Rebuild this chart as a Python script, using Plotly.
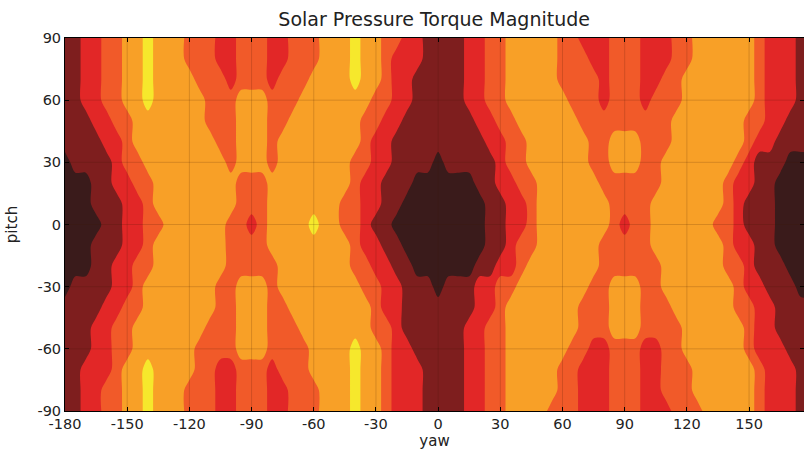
import plotly.graph_objects as go

# grid of the map (degrees)
yaw = list(range(-180, 181, 5))
pitch = list(range(90, -91, -10))

# magnitude level (0 = darkest ... 5 = yellow)
# one row per pitch value (top row = +90), one digit per yaw column (-180 ... 180, step 5),
# digits grouped per 30 degrees of yaw for readability
level_rows = [
    "112233 445444 333223 332233 344454 433221 111223 344444 332223 332223 344444 432221 1",  #  90
    "112233 445444 333223 332233 344454 432221 111223 344444 333223 332223 344444 432221 1",  #  80
    "112233 445444 433323 332333 444454 432211 111223 344444 333323 332233 444444 432221 1",  #  70
    "112233 445444 443334 443334 444444 332211 111223 344444 433323 332333 444444 432221 1",  #  60
    "111223 344444 443334 443344 444443 322111 111122 334444 443333 333334 444444 332211 1",  #  50
    "111122 344444 444334 443444 444443 221111 111112 233444 444334 443334 444444 322111 1",  #  40
    "011112 334444 444434 443444 444433 221111 011111 233444 444334 443344 444443 211100 0",  #  30
    "000112 233444 444443 334444 444432 211100 000011 223344 444433 333344 444432 211000 0",  #  20
    "000111 223444 444443 334444 444332 211000 000001 122344 444443 333444 444432 111000 0",  #  10
    "000011 223344 444433 234444 544332 110000 000001 122344 444443 233444 444332 111000 0",  #   0
    "000111 223444 444433 334444 444432 211000 000001 123344 444433 333444 444432 211000 0",  # -10
    "000112 233444 444433 333444 444433 221100 000011 223444 444433 333344 444433 211100 0",  # -20
    "011112 234444 444334 443444 444443 322111 011122 334444 444334 443344 444443 221110 0",  # -30
    "111122 334444 444334 443344 444444 322111 111122 344444 443334 443334 444443 322111 1",  # -40
    "111223 344444 443334 443334 444444 332111 111223 344444 443334 443333 444444 322111 1",  # -50
    "111223 344444 433334 443333 444454 432211 111223 344444 433223 332233 444444 322211 1",  # -60
    "112223 445444 433223 332333 444454 432221 111223 344444 332223 332233 344444 432221 1",  # -70
    "112233 445444 333223 332233 344454 432221 111223 344444 332223 332233 344444 432221 1",  # -80
    "112233 445444 333223 332233 344454 432221 111223 344443 332223 332223 334444 432221 1",  # -90
]

level_colors = ["#3a1b1b", "#7e1e1e", "#e22727", "#f15a29", "#f8a027", "#f6e82c"]

x_ticks = [-180, -150, -120, -90, -60, -30, 0, 30, 60, 90, 120, 150]
x_tick_text = ["-180", "-150", "-120", "-90", "-60", "-30", "0", "30", "60", "90", "120", "150"]
y_ticks = [90, 60, 30, 0, -30, -60, -90]
y_tick_text = ["90", "60", "30", "0", "-30", "-60", "-90"]

z = [[int(c) for c in row.replace(" ", "")] for row in level_rows]

n = len(level_colors) - 1
colorscale = [[i / n, c] for i, c in enumerate(level_colors)]

fig = go.Figure(
    go.Contour(
        x=yaw,
        y=pitch,
        z=z,
        colorscale=colorscale,
        contours=dict(start=0.5, end=4.5, size=1, coloring="fill", showlines=False),
        line=dict(width=0, smoothing=0.9),
        showscale=False,
        hoverinfo="skip",
    )
)

grid_color = "rgba(60,20,0,0.18)"
for xv in x_ticks[1:]:
    fig.add_shape(type="line", x0=xv, x1=xv, y0=-90, y1=90, xref="x", yref="y",
                  line=dict(color=grid_color, width=1), layer="above")
for yv in y_ticks[1:-1]:
    fig.add_shape(type="line", x0=-180, x1=180, y0=yv, y1=yv, xref="x", yref="y",
                  line=dict(color=grid_color, width=1), layer="above")

fig.update_layout(
    width=804,
    height=451,
    margin=dict(l=65, r=0, t=38, b=40),
    paper_bgcolor="white",
    plot_bgcolor="white",
    font=dict(family="DejaVu Sans", size=14.5, color="#222222"),
    title=dict(
        text="Solar Pressure Torque Magnitude",
        x=0.54, xanchor="center",
        y=0.958, yanchor="middle", yref="container",
        font=dict(family="DejaVu Sans", size=19, color="#222222"),
    ),
    xaxis=dict(
        range=[-180, 176.5],
        tickvals=x_ticks,
        ticktext=x_tick_text,
        ticks="inside",
        ticklen=4,
        tickcolor="black",
        showline=True,
        mirror="ticks",
        linecolor="black",
        linewidth=1,
        showgrid=False,
        zeroline=False,
        title=dict(text="yaw", standoff=0, font=dict(size=15)),
    ),
    yaxis=dict(
        range=[-90, 90],
        tickvals=y_ticks,
        ticktext=y_tick_text,
        ticks="inside",
        ticklen=4,
        tickcolor="black",
        showline=True,
        mirror="ticks",
        linecolor="black",
        linewidth=1,
        showgrid=False,
        zeroline=False,
        title=dict(text="pitch", standoff=16, font=dict(size=15)),
    ),
)

fig.write_html("out.html")
